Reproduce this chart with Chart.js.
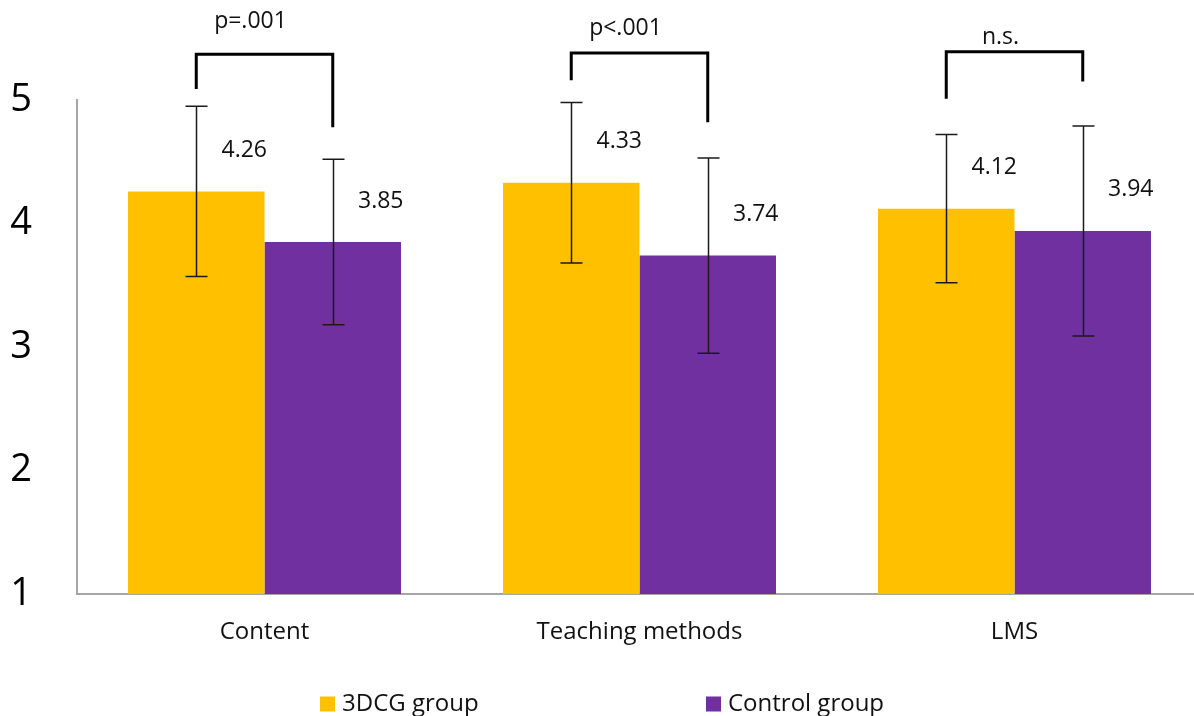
<!DOCTYPE html>
<html>
<head>
<meta charset="utf-8">
<script src="https://cdn.jsdelivr.net/npm/chart.js@4"></script>
<style>
  html, body { margin: 0; padding: 0; background: #fff; overflow: hidden; }
  #wrap { width: 1194px; height: 716px; overflow: hidden; position: relative; }
  #c { position: absolute; left: 0; top: 0; }
</style>
</head>
<body>
<div id="wrap"><canvas id="c" width="1202" height="716"></canvas></div>
<script>
// ---- data ----
const categories = ['Content', 'Teaching methods', 'LMS'];
const seriesNames = ['3DCG group', 'Control group'];
const group3dcgMeans = [4.26, 4.33, 4.12];
const controlMeans = [3.85, 3.74, 3.94];
const group3dcgSD = [0.69, 0.65, 0.60];
const controlSD = [0.67, 0.79, 0.85];
const yTicks = [1, 2, 3, 4, 5];
const significance = ['p=.001', 'p<.001', 'n.s.'];
// bracket levels in axis units (top bar, left leg end, right leg end, label baseline)
const bracketTop = [5.37, 5.38, 5.39];
const bracketLeftEnd = [5.09, 5.16, 5.01];
const bracketRightEnd = [4.78, 4.82, 5.15];
const bracketLabelBase = [5.58, 5.53, 5.45];

const COLORS = ['#FFC000', '#7030A0'];
const FONT = "'Open Sans', 'Liberation Sans', sans-serif";
const sds = [group3dcgSD, controlSD];

const overlay = {
  id: 'overlay',
  afterDatasetsDraw(chart) {
    const ctx = chart.ctx;
    const y = chart.scales.y;
    ctx.save();
    // error bars
    ctx.strokeStyle = '#1a1a1a';
    ctx.lineWidth = 1.5;
    chart.data.datasets.forEach((ds, di) => {
      const meta = chart.getDatasetMeta(di);
      meta.data.forEach((bar, i) => {
        const v = ds.data[i], sd = sds[di][i];
        const yt = y.getPixelForValue(v + sd), yb = y.getPixelForValue(v - sd);
        const x = Math.round(bar.x) + 0.5;
        ctx.beginPath();
        ctx.moveTo(x, yt); ctx.lineTo(x, yb);
        ctx.moveTo(x - 11, yt); ctx.lineTo(x + 11, yt);
        ctx.moveTo(x - 11, yb); ctx.lineTo(x + 11, yb);
        ctx.stroke();
      });
    });
    // value labels
    ctx.fillStyle = '#111';
    ctx.font = '23px ' + FONT;
    ctx.textAlign = 'center';
    ctx.textBaseline = 'middle';
    chart.data.datasets.forEach((ds, di) => {
      const meta = chart.getDatasetMeta(di);
      meta.data.forEach((bar, i) => {
        ctx.fillText(ds.data[i].toFixed(2), bar.x + 48, bar.y - 41);
      });
    });
    // significance brackets
    const m0 = chart.getDatasetMeta(0), m1 = chart.getDatasetMeta(1);
    ctx.strokeStyle = '#000';
    ctx.lineWidth = 3;
    ctx.lineJoin = 'miter';
    categories.forEach((c, i) => {
      const xl = m0.data[i].x, xr = m1.data[i].x;
      const yt = y.getPixelForValue(bracketTop[i]);
      ctx.beginPath();
      ctx.moveTo(xl, y.getPixelForValue(bracketLeftEnd[i]));
      ctx.lineTo(xl, yt);
      ctx.lineTo(xr, yt);
      ctx.lineTo(xr, y.getPixelForValue(bracketRightEnd[i]));
      ctx.stroke();
      ctx.textBaseline = 'alphabetic';
      ctx.fillText(significance[i], (xl + xr) / 2 - 14, y.getPixelForValue(bracketLabelBase[i]));
    });
    ctx.restore();
  },
  afterDraw(chart) {
    // legend
    const ctx = chart.ctx;
    ctx.save();
    ctx.font = '24px ' + FONT;
    ctx.textAlign = 'left';
    ctx.textBaseline = 'middle';
    const xs = [320, 706];
    const cy = 704;
    seriesNames.forEach((n, i) => {
      ctx.fillStyle = COLORS[i];
      ctx.fillRect(xs[i], cy - 7.5, 15, 15);
      ctx.fillStyle = '#111';
      ctx.fillText(n, xs[i] + 22, cy);
    });
    ctx.restore();
  }
};

new Chart(document.getElementById('c'), {
  type: 'bar',
  data: {
    labels: categories,
    datasets: [
      { label: seriesNames[0], data: group3dcgMeans, backgroundColor: COLORS[0], borderWidth: 0 },
      { label: seriesNames[1], data: controlMeans, backgroundColor: COLORS[1], borderWidth: 0 }
    ]
  },
  options: {
    responsive: false,
    devicePixelRatio: 1,
    animation: false,
    layout: { padding: { top: 100, left: 0, right: 0, bottom: 0 } },
    datasets: { bar: { categoryPercentage: 0.728, barPercentage: 1.0 } },
    plugins: { legend: { display: false }, tooltip: { enabled: false } },
    scales: {
      x: {
        grid: { display: false, drawTicks: false },
        border: { display: true, color: '#a6a6a6', width: 2 },
        ticks: { font: { family: FONT, size: 24 }, color: '#111', padding: 24 },
        afterFit(s) { s.height = 122; }
      },
      y: {
        min: 1, max: 5,
        afterBuildTicks(s) { s.ticks = yTicks.map(v => ({ value: v })); },
        grid: { display: false, drawTicks: false },
        border: { display: true, color: '#a6a6a6', width: 2 },
        ticks: { font: { family: FONT, size: 38 }, color: '#000', padding: 45 },
        afterFit(s) { s.width = 77; }
      }
    }
  },
  plugins: [overlay]
});
</script>
</body>
</html>
